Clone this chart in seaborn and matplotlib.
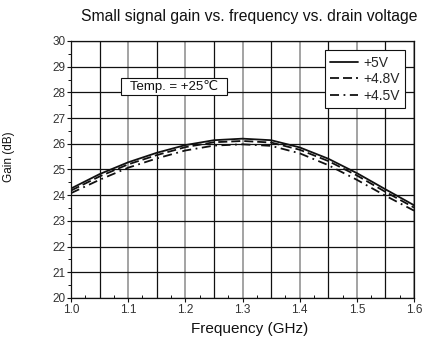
import numpy as np
import pandas as pd
import matplotlib
matplotlib.use("Agg")
import matplotlib.pyplot as plt
from matplotlib.ticker import MultipleLocator, FormatStrFormatter
import seaborn as sns

# ---- data ----
freq = [1.0, 1.05, 1.1, 1.15, 1.2, 1.25, 1.3, 1.35, 1.4, 1.45, 1.5, 1.55, 1.6]
gain_5v = [24.26, 24.82, 25.28, 25.65, 25.95, 26.14, 26.20, 26.14, 25.86, 25.42, 24.86, 24.23, 23.61]
gain_48v = [24.18, 24.73, 25.20, 25.56, 25.87, 26.06, 26.11, 26.05, 25.77, 25.33, 24.77, 24.13, 23.52]
gain_45v = [24.08, 24.60, 25.07, 25.43, 25.74, 25.93, 25.98, 25.92, 25.63, 25.17, 24.60, 23.98, 23.40]
series_labels = ["+5V", "+4.8V", "+4.5V"]
x_ticks = [1.0, 1.1, 1.2, 1.3, 1.4, 1.5, 1.6]
y_ticks = list(range(20, 31))
title = "Small signal gain vs. frequency vs. drain voltage"
xlabel = "Frequency (GHz)"
ylabel = "Gain (dB)"
note = "Temp. = +25\u2103"

sns.set_theme(style="white")
plt.rcParams["font.family"] = ["Liberation Sans", "DejaVu Sans"]

fig = plt.figure(figsize=(4.23, 3.44), dpi=100)
ax = fig.add_axes([71/423, 1-298/344, (414-71)/423, (298-41)/344])

styles = [dict(linestyle="-"), dict(linestyle=(0, (5, 2.2))), dict(linestyle=(0, (5, 2.5, 1, 2.5)))]
for vals, lab, st in zip([gain_5v, gain_48v, gain_45v], series_labels, styles):
    df = pd.DataFrame({"freq": freq, "gain": vals})
    sns.lineplot(data=df, x="freq", y="gain", ax=ax, color="#111111", lw=1.3, label=lab, **st)

ax.set_xlim(1.0, 1.6)
ax.set_ylim(20, 30)
ax.set_xticks(x_ticks)
ax.set_yticks(y_ticks)
ax.xaxis.set_major_formatter(FormatStrFormatter("%.1f"))
ax.xaxis.set_minor_locator(MultipleLocator(0.025))
ax.yaxis.set_minor_locator(MultipleLocator(0.5))

# grid
ax.grid(axis="y", which="major", color="#111111", lw=0.9)
ax.grid(axis="x", which="major", color="#8a8a8a", lw=1.1)
for xv in np.arange(1.05, 1.6, 0.1):
    ax.axvline(xv, color="#111111", lw=0.9, zorder=0.5)
ax.set_axisbelow(True)

for s in ax.spines.values():
    s.set_color("#111111")
    s.set_linewidth(0.9)

ax.tick_params(axis="both", which="major", direction="out", length=3, width=0.8,
               color="#111111", labelsize=8.5, labelcolor="#333333", pad=1,
               left=True, bottom=True)
ax.tick_params(axis="x", which="minor", direction="in", length=2.5, width=0.7,
               color="#111111", bottom=True)
ax.tick_params(axis="y", which="minor", direction="out", length=2, width=0.7,
               color="#111111", left=True)

ax.set_xlabel("")
ax.set_ylabel("")
fig.text(250/423, 1-329/344, xlabel, ha="center", va="center", fontsize=11, color="#111111")
fig.text(9/423, 1-157/344, ylabel, rotation=90, ha="center", va="center",
         fontsize=8.5, color="#111111")
fig.text(249/423, 1-17/344, title, ha="center", va="center", fontsize=11.3, color="#111111")

ax.text(1.18, 28.24, "  " + note + "  ", ha="center", va="center", fontsize=9.5,
        color="#111111",
        bbox=dict(boxstyle="square,pad=0.15", fc="white", ec="#111111", lw=0.8))

leg = ax.legend(loc="upper right", bbox_to_anchor=(0.974, 0.965), borderaxespad=0,
                fancybox=False, frameon=True, fontsize=10, handlelength=2.0,
                labelspacing=0.18, handletextpad=0.35, borderpad=0.4)
leg.get_frame().set_edgecolor("#111111")
leg.get_frame().set_linewidth(0.8)
leg.get_frame().set_alpha(1)

fig.savefig("out.png", dpi=100)
